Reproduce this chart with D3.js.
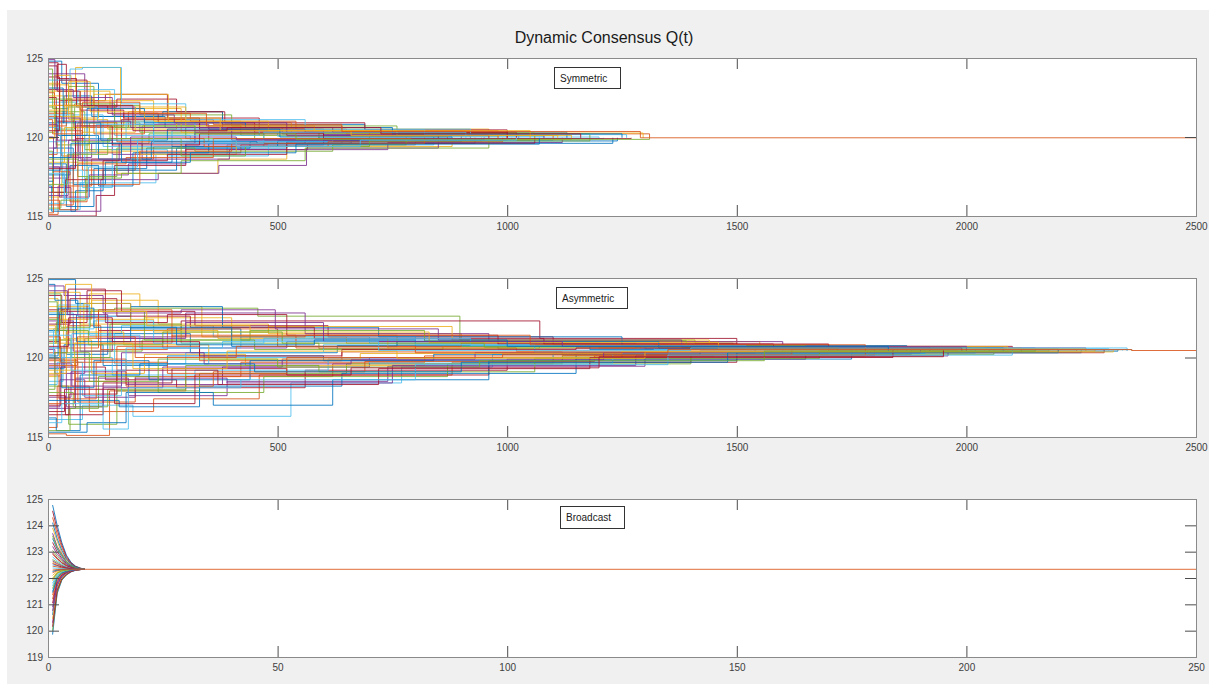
<!DOCTYPE html>
<html>
<head>
<meta charset="utf-8">
<script src="https://cdn.jsdelivr.net/npm/d3@7"></script>
<style>
  body { margin: 0; background: #fff; }
  text { font-family: "Liberation Sans", Arial, sans-serif; }
</style>
</head>
<body>
<div id="chart"></div>
<script>
// ---- data ----
const title = "Dynamic Consensus Q(t)";
const panelNames = ["Symmetric", "Asymmetric", "Broadcast"];

const xTicksLong = [0, 500, 1000, 1500, 2000, 2500];
const xTicksShort = [0, 50, 100, 150, 200, 250];
const yTicksWide = [115, 120, 125];
const yTicksBroad = [119, 120, 121, 122, 123, 124, 125];

// step series: [t0, v0, t1, v1, ...], value held until next change
const symmetricSeries = [
  [0,124.8, 30,123.4, 110,121.3, 255,120.6, 510,120.2, 840,119.95],
  [0,115.1, 22,116.9, 95,118.6, 230,119.4, 470,119.8, 760,119.95],
  [0,122.9, 60,124.4, 158,121.0, 330,120.3, 610,120.05, 980,119.95],
  [0,117.4, 45,119.8, 140,118.9, 300,119.6, 560,119.85, 1010,119.95],
  [0,120.3, 15,121.6, 80,119.2, 205,120.7, 420,120.1, 700,119.95],
  [0,115.4, 70,117.1, 235,118.9, 390,119.5, 640,119.8, 1100,119.95],
  [0,123.8, 25,122.3, 125,122.7, 260,121.2, 460,120.4, 900,119.95],
  [0,118.3, 40,115.6, 100,118.0, 215,119.3, 440,119.7, 780,119.95],
  [0,121.5, 55,120.6, 175,121.6, 380,120.5, 650,120.2, 1310,119.95],
  [0,116.2, 30,118.4, 150,117.7, 370,118.6, 520,119.4, 880,119.8, 1050,119.95],
  [0,124.0, 80,121.9, 190,120.8, 350,120.5, 600,120.15, 1025,119.95],
  [0,119.1, 10,116.5, 85,119.6, 220,120.2, 470,119.9, 720,119.95],
  [0,122.2, 65,123.0, 145,120.1, 310,119.8, 590,120.0, 1200,119.95],
  [0,115.0, 105,116.3, 145,118.2, 300,119.2, 565,119.6, 930,119.95],
  [0,120.9, 35,122.6, 95,121.3, 250,121.6, 380,120.8, 690,120.3, 1130,119.95],
  [0,118.9, 20,120.4, 75,117.9, 190,119.0, 420,119.5, 800,119.75, 944,119.95],
  [0,123.3, 45,121.1, 130,120.5, 280,120.9, 530,120.25, 1296,119.95],
  [0,116.8, 50,115.3, 115,117.3, 240,117.7, 372,118.2, 563,119.3, 850,119.95],
  [0,121.9, 18,119.5, 90,120.9, 200,120.3, 450,119.9, 1160,119.95],
  [0,119.7, 40,121.4, 120,119.4, 270,120.4, 500,120.05, 1080,119.95],
  [0,123.0, 20,124.6, 40,122.0, 130,121.5, 240,120.9, 450,120.3, 850,119.95],
  [0,116.9, 8,115.3, 60,116.6, 120,117.9, 280,119.3, 520,119.7, 900,119.95],
  [0,121.3, 30,118.8, 65,120.9, 150,119.7, 350,120.4, 700,120.1, 1100,119.95],
  [0,119.9, 14,123.9, 50,121.2, 110,122.3, 230,121.0, 420,120.5, 960,119.95],
  [0,118.1, 25,116.2, 90,117.6, 175,118.3, 300,119.5, 600,119.8, 1000,119.95],
  [0,124.3, 10,121.8, 45,123.2, 100,122.0, 200,121.4, 400,120.7, 760,120.2, 1180,119.95],
  [0,115.8, 35,117.9, 75,116.8, 140,119.2, 260,118.8, 480,119.5, 840,119.95],
  [0,122.5, 18,121.0, 60,119.9, 160,121.1, 330,120.5, 560,120.3, 1020,119.95],
  [0,117.2, 12,119.3, 55,117.0, 125,118.4, 270,119.4, 500,119.75, 1240,119.95],
  [0,120.7, 40,122.4, 100,120.2, 210,121.1, 360,120.8, 640,120.4, 980,119.95],
  [0,123.4, 26,121.3, 70,122.9, 135,121.8, 290,120.3, 520,120.05, 870,119.95],
  [0,116.3, 44,118.7, 95,119.6, 205,118.6, 395,119.2, 740,119.65, 1120,119.95],
  [0,121.6, 16,120.5, 58,122.1, 145,120.6, 300,119.9, 590,120.25, 1060,119.95],
  [0,119.0, 32,117.1, 80,119.9, 170,120.9, 320,119.7, 620,119.9, 1210,119.95],
  [0,124.7, 22,123.7, 62,121.9, 150,122.4, 280,121.6, 385,120.9, 690,120.45, 1000,119.95],
  [0,117.6, 48,118.2, 110,116.9, 185,119.0, 350,119.6, 660,119.8, 950,119.95],
  [0,122.8, 14,122.0, 72,120.7, 165,121.5, 310,121.0, 540,120.4, 920,119.95],
  [0,118.4, 36,120.6, 90,119.1, 200,118.9, 410,119.9, 730,119.85, 1140,119.95],
  [0,120.8, 20,119.8, 66,118.5, 155,119.6, 320,120.3, 600,120.1, 1080,119.95],
  [0,115.5, 28,116.0, 82,117.4, 160,117.7, 290,118.5, 560,119.3, 960,119.95],
  [0,121.4, 42,121.9, 108,121.0, 230,120.1, 460,120.45, 820,120.15, 1260,119.95],
  [0,124.5, 20,122.9, 70,121.7, 165,121.2, 330,120.6, 620,120.3, 1000,119.95],
  [0,117.9, 28,120.1, 110,118.6, 225,119.7, 455,119.6, 1230,119.95],
  [0,115.7, 55,119.0, 160,119.9, 340,119.4, 610,119.7, 990,119.95],
  [0,122.6, 35,121.9, 100,122.7, 262,121.0, 480,120.4, 760,120.1, 1140,119.95],
  [0,120.0, 12,118.1, 60,121.0, 180,120.6, 400,119.8, 870,119.95],
  [0,118.6, 65,117.5, 150,119.3, 320,119.1, 620,119.5, 780,119.95],
  [0,123.6, 48,124.3, 75,124.4, 160,122.1, 300,121.1, 560,120.5, 920,119.95],
  [0,116.5, 38,117.3, 120,118.5, 260,118.9, 520,119.6, 1060,119.95],
  [0,121.2, 22,120.1, 85,121.8, 210,120.9, 430,120.6, 750,120.2, 1250,119.95],
  [0,115.2, 12,117.8, 48,115.9, 85,117.0, 200,119.1, 400,119.6, 820,119.95],
  [0,122.0, 70,120.3, 190,121.9, 300,120.7, 580,120.4, 1050,119.95],
  [0,124.9, 15,123.0, 55,122.5, 140,121.4, 275,120.9, 520,120.1, 960,119.95],
  [0,117.0, 42,118.9, 130,119.9, 290,118.8, 430,119.4, 700,119.75, 1180,119.95],
  [0,120.6, 28,119.0, 105,120.8, 230,119.6, 470,120.3, 910,119.95],
  [0,118.0, 60,120.7, 140,119.5, 330,120.2, 600,119.9, 1270,119.95],
  [0,123.1, 33,120.9, 115,119.8, 260,120.5, 505,120.0, 880,119.95],
  [0,116.0, 25,115.4, 65,118.3, 170,118.7, 360,119.9, 790,119.95],
  [0,121.7, 45,123.5, 92,121.6, 210,121.2, 375,120.4, 660,120.1, 1110,119.95],
  [0,119.3, 18,121.2, 70,118.6, 180,120.0, 410,119.85, 950,119.95],
  [0,122.4, 52,119.7, 135,120.7, 320,120.2, 540,119.85, 1310,119.95],
  [0,117.7, 36,116.1, 88,118.1, 195,119.8, 410,119.4, 680,119.8, 1020,119.95],
  [0,120.4, 25,123.6, 85,122.0, 185,120.4, 390,120.6, 725,120.2, 1160,119.95],
  [0,118.7, 50,119.6, 160,118.4, 310,119.0, 540,119.55, 1070,119.95],
  [0,121.1, 10,120.2, 75,122.2, 200,121.5, 345,120.7, 640,120.35, 1290,119.95]
];

const asymmetricSeries = [
  [0,124.9, 60,123.4, 180,121.8, 420,121.1, 800,120.7, 1300,120.55, 1900,120.44],
  [0,115.2, 40,115.1, 134,117.9, 300,118.8, 620,119.6, 1100,120.2, 1700,120.44],
  [0,123.2, 90,124.0, 200,123.2, 335,121.3, 650,120.9, 1200,120.6, 2050,120.44],
  [0,117.5, 50,119.1, 170,118.3, 380,119.4, 700,120.0, 1250,120.3, 1850,120.44],
  [0,122.4, 30,123.0, 145,123.1, 457,122.6, 897,121.1, 1409,120.9, 1492,120.55, 2000,120.44],
  [0,116.1, 75,117.0, 185,116.3, 529,118.4, 770,119.4, 968,120.2, 1600,120.44],
  [0,121.0, 25,122.9, 110,121.7, 290,122.3, 1071,121.2, 1500,120.7, 2100,120.44],
  [0,119.3, 35,120.8, 120,119.5, 260,120.1, 600,119.8, 1150,120.3, 2250,120.44],
  [0,115.6, 20,118.2, 90,116.6, 230,117.4, 460,118.9, 880,119.7, 1400,120.35, 2200,120.44],
  [0,124.1, 70,122.1, 210,122.5, 400,121.4, 760,120.8, 1350,120.5, 2360,120.44],
  [0,120.5, 15,119.0, 80,121.2, 250,120.6, 520,121.0, 980,120.55, 1800,120.44],
  [0,118.2, 45,115.8, 150,117.9, 330,119.0, 650,119.6, 1120,120.1, 1950,120.44],
  [0,122.8, 55,121.5, 160,122.0, 360,121.3, 700,120.9, 1280,120.6, 2150,120.44],
  [0,117.0, 28,119.4, 125,118.6, 280,118.1, 560,119.2, 1000,119.9, 1650,120.3, 2300,120.44],
  [0,121.7, 40,120.2, 130,121.5, 310,120.3, 630,120.75, 1180,120.5, 2350,120.44],
  [0,119.8, 65,117.2, 190,118.8, 420,119.7, 820,120.1, 1450,120.35, 2050,120.44],
  [0,123.7, 22,122.4, 95,123.6, 240,122.1, 480,121.5, 900,121.0, 1550,120.6, 2120,120.44],
  [0,116.8, 60,118.7, 175,117.6, 390,118.5, 740,119.45, 1300,120.2, 1880,120.44],
  [0,120.9, 18,122.2, 70,120.4, 205,121.1, 450,120.5, 860,120.7, 1600,120.5, 2330,120.44],
  [0,118.5, 33,120.0, 140,118.9, 320,119.2, 610,119.9, 1100,120.25, 1760,120.44],
  [0,123.9, 30,122.2, 85,124.2, 160,122.9, 320,122.0, 610,121.3, 1100,120.8, 1700,120.5, 2300,120.44],
  [0,116.2, 18,115.4, 70,117.3, 155,116.9, 330,118.2, 640,119.0, 1150,119.9, 1750,120.44],
  [0,120.3, 42,122.0, 115,120.5, 260,121.8, 500,120.7, 900,120.9, 1500,120.55, 2150,120.44],
  [0,118.8, 25,121.1, 95,119.0, 210,120.2, 430,119.5, 820,120.0, 1350,120.3, 2000,120.44],
  [0,122.3, 55,120.4, 140,121.3, 300,122.8, 560,121.5, 960,121.0, 1600,120.6, 2260,120.44],
  [0,115.4, 48,116.8, 110,118.8, 240,117.8, 470,118.8, 870,119.6, 1400,120.2, 2060,120.44],
  [0,121.6, 22,123.3, 90,121.4, 200,120.6, 420,121.3, 800,120.8, 1320,120.5, 2340,120.44],
  [0,117.6, 38,116.4, 120,118.4, 270,119.3, 520,118.9, 960,119.7, 1500,120.35, 2120,120.44],
  [0,124.6, 15,123.6, 65,122.6, 180,123.2, 380,121.9, 720,121.3, 1250,120.75, 1870,120.44],
  [0,119.9, 60,118.5, 150,120.7, 330,119.8, 640,120.35, 1120,120.15, 1800,120.44],
  [0,122.9, 34,121.2, 105,122.4, 230,121.6, 480,121.95, 880,121.1, 1440,120.6, 2040,120.44],
  [0,116.9, 26,118.6, 80,117.5, 190,118.7, 390,118.4, 750,119.5, 1280,120.1, 1960,120.44],
  [0,121.1, 50,120.0, 135,122.1, 290,120.9, 590,120.55, 1070,120.75, 1650,120.5, 2280,120.44],
  [0,118.3, 20,119.7, 75,117.6, 160,119.6, 350,120.0, 700,119.65, 1230,120.25, 1910,120.44],
  [0,123.0, 44,124.3, 125,122.2, 260,122.7, 520,121.4, 980,120.85, 1580,120.55, 2200,120.44],
  [0,120.6, 30,118.1, 100,119.8, 220,118.6, 440,119.8, 840,120.2, 1420,120.4, 2330,120.44],
  [0,117.1, 58,119.9, 170,118.2, 360,119.1, 690,119.75, 1190,120.1, 1780,120.44],
  [0,122.0, 16,120.9, 78,123.4, 180,121.7, 370,121.2, 740,120.6, 1290,120.7, 2090,120.44],
  [0,119.4, 40,116.9, 120,118.1, 250,119.4, 510,119.9, 930,120.3, 1540,120.44],
  [0,124.0, 28,121.9, 92,122.9, 210,121.1, 440,121.7, 820,121.05, 1390,120.6, 2010,120.44],
  [0,120.0, 52,121.5, 145,119.6, 300,120.3, 600,120.8, 1060,120.35, 1720,120.55, 2310,120.44],
  [0,122.1, 48,123.7, 150,122.6, 310,121.9, 580,121.2, 1080,120.85, 1700,120.5, 2240,120.44],
  [0,115.3, 85,115.9, 170,117.8, 360,117.0, 620,118.6, 960,119.8, 1500,120.3, 2020,120.44],
  [0,121.3, 27,119.7, 115,120.9, 270,121.4, 540,120.6, 1020,120.4, 1980,120.44],
  [0,119.0, 40,121.6, 165,120.8, 350,119.9, 680,120.25, 1250,120.4, 2280,120.44],
  [0,124.5, 35,123.9, 120,122.8, 290,123.0, 495,121.8, 850,121.1, 1380,120.65, 1920,120.44],
  [0,117.8, 55,116.9, 130,118.0, 300,119.5, 590,119.1, 1060,119.95, 1680,120.4, 2180,120.44],
  [0,120.2, 12,121.8, 100,122.3, 230,120.9, 470,121.2, 920,120.75, 1520,120.5, 2360,120.44],
  [0,116.4, 46,117.7, 150,119.2, 370,118.3, 720,119.3, 1180,120.0, 1840,120.44],
  [0,122.7, 62,121.0, 180,121.9, 400,120.7, 760,121.0, 1330,120.6, 2080,120.44],
  [0,118.9, 24,117.4, 105,119.7, 260,119.0, 520,120.0, 990,120.2, 1620,120.44],
  [0,121.8, 38,124.6, 95,122.9, 215,122.0, 440,121.6, 830,120.95, 1460,120.55, 2260,120.44],
  [0,119.6, 52,118.2, 160,120.3, 340,119.6, 660,119.85, 1210,120.3, 1900,120.44],
  [0,123.5, 20,121.7, 88,120.8, 250,121.6, 510,120.9, 950,120.65, 1720,120.44],
  [0,115.9, 30,117.1, 120,115.5, 175,118.1, 420,118.6, 800,119.55, 1350,120.15, 2100,120.44],
  [0,120.7, 45,122.5, 140,121.0, 330,120.1, 640,120.5, 1150,120.6, 1990,120.44],
  [0,117.3, 70,118.9, 200,119.6, 450,119.1, 900,119.7, 1480,120.3, 2200,120.44],
  [0,122.5, 25,120.6, 110,123.0, 270,121.3, 560,121.4, 1050,120.8, 1780,120.44],
  [0,119.2, 58,120.9, 185,119.3, 390,120.4, 760,119.95, 1300,120.35, 2320,120.44],
  [0,124.2, 42,122.7, 130,121.2, 300,122.2, 600,121.0, 1120,120.7, 2000,120.44],
  [0,118.0, 15,120.3, 90,118.5, 240,119.9, 500,119.4, 940,119.8, 1560,120.4, 2150,120.44],
  [0,121.4, 50,119.2, 170,120.6, 380,121.0, 720,120.45, 1400,120.6, 2350,120.44],
  [0,116.6, 36,118.0, 145,117.1, 320,118.9, 660,119.35, 1200,120.05, 1950,120.44],
  [0,120.1, 22,123.1, 100,121.9, 280,120.8, 580,121.1, 1000,120.7, 1830,120.44],
  [0,119.5, 64,121.3, 190,120.0, 410,120.7, 800,120.3, 1350,120.5, 2360,120.44]
];

// broadcast: values at broadcastTimes
const broadcastTimes = [1, 2, 3, 4, 5, 6, 7, 8];
const broadcastSeries = [
  [124.77, 124.00, 123.35, 122.87, 122.60, 122.45, 122.38, 122.33],
  [121.20, 121.91, 122.14, 122.23, 122.29, 122.31, 122.32, 122.33],
  [123.90, 123.40, 122.95, 122.68, 122.50, 122.41, 122.36, 122.33],
  [120.30, 121.58, 121.98, 122.15, 122.25, 122.30, 122.32, 122.33],
  [122.70, 122.60, 122.49, 122.41, 122.37, 122.35, 122.34, 122.33],
  [121.70, 122.10, 122.22, 122.27, 122.30, 122.32, 122.33, 122.33],
  [123.35, 123.00, 122.75, 122.55, 122.44, 122.38, 122.35, 122.33],
  [119.85, 121.41, 121.91, 122.11, 122.23, 122.29, 122.32, 122.33],
  [124.30, 123.67, 123.16, 122.76, 122.55, 122.43, 122.37, 122.33],
  [122.10, 122.25, 122.29, 122.31, 122.32, 122.33, 122.33, 122.33],
  [120.90, 121.80, 122.09, 122.20, 122.27, 122.31, 122.32, 122.33],
  [123.05, 122.82, 122.64, 122.49, 122.41, 122.36, 122.34, 122.33],
  [121.50, 122.02, 122.19, 122.26, 122.30, 122.32, 122.33, 122.33],
  [124.55, 123.84, 123.26, 122.82, 122.57, 122.44, 122.37, 122.33],
  [120.60, 121.69, 122.04, 122.17, 122.26, 122.30, 122.32, 122.33],
  [122.90, 122.72, 122.57, 122.46, 122.39, 122.36, 122.34, 122.33],
  [121.90, 122.17, 122.26, 122.29, 122.31, 122.32, 122.33, 122.33],
  [123.70, 123.20, 122.90, 122.63, 122.48, 122.40, 122.35, 122.33],
  [120.00, 121.47, 121.93, 122.12, 122.24, 122.30, 122.32, 122.33],
  [122.50, 122.46, 122.41, 122.37, 122.35, 122.34, 122.33, 122.33],
  [121.05, 121.86, 122.11, 122.21, 122.28, 122.31, 122.32, 122.33],
  [124.10, 123.50, 123.05, 122.72, 122.52, 122.42, 122.36, 122.33],
  [122.20, 122.28, 122.31, 122.32, 122.33, 122.33, 122.33, 122.33],
  [120.45, 121.63, 122.01, 122.16, 122.26, 122.30, 122.32, 122.33],
  [123.20, 122.90, 122.70, 122.52, 122.43, 122.37, 122.34, 122.33],
  [121.60, 122.06, 122.21, 122.26, 122.30, 122.32, 122.33, 122.33],
  [122.80, 122.65, 122.53, 122.43, 122.38, 122.35, 122.34, 122.33],
  [120.15, 121.52, 121.96, 122.13, 122.24, 122.30, 122.32, 122.33],
  [123.50, 123.10, 122.82, 122.59, 122.46, 122.39, 122.35, 122.33],
  [121.35, 121.97, 122.16, 122.24, 122.29, 122.32, 122.33, 122.33],
  [122.60, 122.52, 122.45, 122.39, 122.36, 122.34, 122.33, 122.33],
  [120.75, 121.75, 122.06, 122.19, 122.27, 122.31, 122.32, 122.33],
  [123.60, 123.15, 122.86, 122.61, 122.47, 122.39, 122.35, 122.33],
  [121.80, 122.13, 122.24, 122.28, 122.31, 122.32, 122.33, 122.33],
  [122.95, 122.75, 122.59, 122.47, 122.40, 122.36, 122.34, 122.33],
  [121.45, 122.00, 122.18, 122.25, 122.30, 122.32, 122.33, 122.33],
  [122.45, 122.42, 122.39, 122.36, 122.35, 122.34, 122.33, 122.33],
  [122.00, 122.21, 122.27, 122.30, 122.32, 122.33, 122.33, 122.33],
  [122.65, 122.55, 122.46, 122.40, 122.36, 122.34, 122.33, 122.33],
  [121.95, 122.19, 122.27, 122.30, 122.32, 122.33, 122.33, 122.33],
  [122.38, 122.37, 122.36, 122.35, 122.34, 122.33, 122.33, 122.33],
  [122.55, 122.48, 122.42, 122.38, 122.35, 122.34, 122.33, 122.33],
  [122.25, 122.30, 122.32, 122.33, 122.33, 122.33, 122.33, 122.33],
  [122.30, 122.32, 122.33, 122.33, 122.33, 122.33, 122.33, 122.33]
];

// MATLAB default line colours
const lineColors = ["#0072BD", "#D95319", "#EDB120", "#7E2F8E", "#77AC30", "#4DBEEE", "#A2142F"];

// ---- layout ----
const W = 1209, H = 684;
const left = 48, right = 1196;
const panels = [
  { top: 58, bottom: 216, xTicks: xTicksLong, yTicks: yTicksWide, name: panelNames[0], box: [554, 67, 66, 21] },
  { top: 278, bottom: 437, xTicks: xTicksLong, yTicks: yTicksWide, name: panelNames[1], box: [556, 287, 71, 21] },
  { top: 499, bottom: 657, xTicks: xTicksShort, yTicks: yTicksBroad, name: panelNames[2], box: [560, 506, 64, 22] }
];

// only the last series is carried on to the end of the axis (it sits on top)
function stepPoints(s, xMax, isLast) {
  var pts = [];
  for (var i = 0; i < s.length; i += 2) pts.push([s[i], s[i + 1]]);
  if (isLast) pts.push([xMax, s[s.length - 1]]);
  return pts;
}

var svg = d3.select("#chart").append("svg")
  .attr("width", W)
  .attr("height", H);

// figure background
svg.append("rect").attr("x", 7).attr("y", 10).attr("width", W - 7).attr("height", H - 10).attr("fill", "#f0f0f0");

// title
svg.append("text")
  .attr("x", 604)
  .attr("y", 43)
  .attr("text-anchor", "middle")
  .style("font-size", "16px")
  .style("fill", "#1a1a1a")
  .text(title);

panels.forEach(function (p, pi) {
  var x = d3.scaleLinear().domain([p.xTicks[0], p.xTicks[p.xTicks.length - 1]]).range([left, right]);
  var y = d3.scaleLinear().domain([p.yTicks[0], p.yTicks[p.yTicks.length - 1]]).range([p.bottom, p.top]);
  var xMax = x.domain()[1];

  var g = svg.append("g");

  g.append("rect")
    .attr("x", left).attr("y", p.top)
    .attr("width", right - left).attr("height", p.bottom - p.top)
    .attr("fill", "#fff");

  g.append("clipPath").attr("id", "clip" + pi)
    .append("rect")
    .attr("x", left).attr("y", p.top)
    .attr("width", right - left).attr("height", p.bottom - p.top);

  var lines = g.append("g").attr("clip-path", "url(#clip" + pi + ")");

  var data, curve;
  if (pi < 2) {
    var src = pi === 0 ? symmetricSeries : asymmetricSeries;
    data = src.map(function (s, i) { return stepPoints(s, xMax, i === src.length - 1); });
    curve = d3.curveStepAfter;
  } else {
    data = broadcastSeries.map(function (s, k) {
      var pts = s.map(function (v, i) { return [broadcastTimes[i], v]; });
      if (k === broadcastSeries.length - 1) pts.push([xMax, s[s.length - 1]]);
      return pts;
    });
    curve = d3.curveLinear;
  }

  var line = d3.line()
    .x(function (d) { return x(d[0]); })
    .y(function (d) { return y(d[1]); })
    .curve(curve);

  lines.selectAll("path")
    .data(data)
    .enter()
    .append("path")
    .attr("d", line)
    .attr("fill", "none")
    .attr("stroke", function (d, i) { return lineColors[i % 7]; })
    .attr("stroke-width", 1)
    .attr("stroke-opacity", 0.85);

  // axes (ticks inside, box on)
  var tl = 11;
  var xb = g.append("g").attr("transform", "translate(0," + p.bottom + ")")
    .call(d3.axisBottom(x).tickValues(p.xTicks).tickSize(-tl).tickPadding(7).tickFormat(d3.format("d")));
  var xt = g.append("g").attr("transform", "translate(0," + p.top + ")")
    .call(d3.axisTop(x).tickValues(p.xTicks).tickSize(-tl).tickFormat(""));
  var yl = g.append("g").attr("transform", "translate(" + left + ",0)")
    .call(d3.axisLeft(y).tickValues(p.yTicks).tickSize(-tl).tickPadding(5).tickFormat(d3.format("d")));
  var yr = g.append("g").attr("transform", "translate(" + right + ",0)")
    .call(d3.axisRight(y).tickValues(p.yTicks).tickSize(-tl).tickFormat(""));

  [xb, xt, yl, yr].forEach(function (a) {
    a.select(".domain").remove();
    a.selectAll("line").attr("stroke", "#4d4d4d");
    a.selectAll("text").style("font-size", "10px").style("fill", "#404040")
      .style("font-family", '"Liberation Sans", Arial, sans-serif');
  });

  g.append("rect")
    .attr("x", left + 0.5).attr("y", p.top + 0.5)
    .attr("width", right - left).attr("height", p.bottom - p.top)
    .attr("fill", "none")
    .attr("stroke", "#8a8a8a");

  // annotation box
  g.append("rect")
    .attr("x", p.box[0] + 0.5).attr("y", p.box[1] + 0.5)
    .attr("width", p.box[2]).attr("height", p.box[3])
    .attr("fill", "#fff")
    .attr("stroke", "#333");
  g.append("text")
    .attr("x", p.box[0] + 6)
    .attr("y", p.box[1] + p.box[3] / 2 + 4)
    .style("font-size", "10px")
    .style("fill", "#1a1a1a")
    .text(p.name);
});
</script>
</body>
</html>
